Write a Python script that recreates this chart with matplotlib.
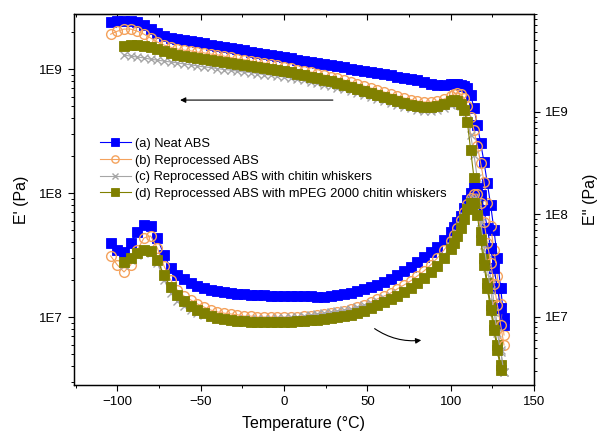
import numpy as np
import matplotlib
matplotlib.use('Agg')
import matplotlib.pyplot as plt
from matplotlib.ticker import FixedLocator, FixedFormatter, LogLocator, NullFormatter, MultipleLocator

plt.rcParams['font.family'] = ['Liberation Sans', 'DejaVu Sans']

nan = np.nan

# temperature grid (°C), shared by all samples
temps = [-104, -100, -96, -92, -88, -84, -80, -76, -72, -68,
         -64, -60, -56, -52, -48, -44, -40, -36, -32, -28,
         -24, -20, -16, -12, -8, -4, 0, 4, 8, 12,
         16, 20, 24, 28, 32, 36, 40, 44, 48, 52,
         56, 60, 64, 68, 72, 76, 80, 84, 88, 92,
         96, 100,
         102, 104, 106, 108, 110, 112, 114, 116, 118, 120,
         122, 124, 126, 128, 130, 132]

# storage modulus E' (Pa)
neat_storage = [2.39e9, 2.44e9, 2.44e9, 2.44e9, 2.39e9, 2.26e9, 2.10e9, 1.95e9, 1.85e9, 1.78e9,
                1.75e9, 1.71e9, 1.68e9, 1.65e9, 1.62e9, 1.56e9, 1.53e9, 1.50e9, 1.48e9, 1.45e9,
                1.42e9, 1.37e9, 1.35e9, 1.32e9, 1.30e9, 1.27e9, 1.25e9, 1.23e9, 1.18e9, 1.16e9,
                1.14e9, 1.12e9, 1.10e9, 1.08e9, 1.06e9, 1.04e9, 1.00e9, 9.81e8, 9.63e8, 9.46e8,
                9.28e8, 9.11e8, 8.94e8, 8.62e8, 8.46e8, 8.30e8, 8.15e8, 7.85e8, 7.57e8, 7.43e8,
                7.43e8, 7.57e8,
                7.57e8, 7.57e8, 7.43e8, 7.29e8, 7.03e8, 6.17e8, 4.85e8, 3.53e8, 2.53e8, 1.78e8,
                1.20e8, 8.00e7, 5.03e7, 2.99e7, 1.71e7, 9.82e6]
repro_storage = [1.91e9, 2.02e9, 2.10e9, 2.10e9, 2.02e9, 1.91e9, 1.78e9, 1.65e9, 1.56e9, 1.50e9,
                 1.45e9, 1.42e9, 1.40e9, 1.37e9, 1.35e9, 1.32e9, 1.30e9, 1.27e9, 1.24e9, 1.21e9,
                 1.19e9, 1.16e9, 1.14e9, 1.12e9, 1.09e9, 1.07e9, 1.04e9, 1.02e9, 9.91e8, 9.72e8,
                 9.46e8, 9.20e8, 8.94e8, 8.70e8, 8.46e8, 8.15e8, 7.85e8, 7.57e8, 7.29e8, 7.03e8,
                 6.77e8, 6.53e8, 6.29e8, 6.06e8, 5.84e8, 5.68e8, 5.52e8, 5.42e8, 5.42e8, 5.52e8,
                 5.73e8, 6.06e8,
                 6.29e8, 6.41e8, 6.29e8, 5.84e8, 5.03e8, 4.10e8, 3.22e8, 2.39e8, 1.75e8, 1.23e8,
                 8.31e7, 5.42e7, 3.47e7, 2.14e7, 1.27e7, 7.16e6]
chitin_storage = [nan, nan, 1.30e9, 1.27e9, 1.25e9, 1.23e9, 1.20e9, 1.18e9, 1.16e9, 1.14e9,
                  1.12e9, 1.10e9, 1.08e9, 1.06e9, 1.04e9, 1.03e9, 1.01e9, 9.91e8, 9.81e8, 9.63e8,
                  9.46e8, 9.37e8, 9.20e8, 9.03e8, 8.94e8, 8.78e8, 8.62e8, 8.46e8, 8.30e8, 8.15e8,
                  7.93e8, 7.71e8, 7.50e8, 7.29e8, 7.09e8, 6.90e8, 6.65e8, 6.41e8, 6.17e8, 5.95e8,
                  5.73e8, 5.52e8, 5.32e8, 5.12e8, 4.94e8, 4.81e8, 4.67e8, 4.63e8, 4.63e8, 4.71e8,
                  4.89e8, 5.17e8,
                  5.32e8, 5.27e8, 5.03e8, 4.58e8, 3.88e8, 2.94e8, 2.03e8, 1.32e8, 8.31e7, 5.22e7,
                  3.28e7, 2.06e7, 1.32e7, 8.46e6, 5.42e6, 3.60e6]
mpeg_storage = [nan, nan, 1.53e9, 1.56e9, 1.56e9, 1.53e9, 1.50e9, 1.45e9, 1.40e9, 1.35e9,
                1.31e9, 1.27e9, 1.25e9, 1.23e9, 1.20e9, 1.18e9, 1.16e9, 1.14e9, 1.12e9, 1.10e9,
                1.08e9, 1.06e9, 1.04e9, 1.02e9, 1.00e9, 9.81e8, 9.63e8, 9.46e8, 9.20e8, 8.94e8,
                8.70e8, 8.46e8, 8.23e8, 8.00e8, 7.71e8, 7.43e8, 7.16e8, 6.90e8, 6.65e8, 6.41e8,
                6.17e8, 5.95e8, 5.73e8, 5.52e8, 5.32e8, 5.12e8, 5.03e8, 4.94e8, 4.94e8, 5.03e8,
                5.22e8, 5.52e8,
                5.62e8, 5.52e8, 5.22e8, 4.67e8, 3.74e8, 2.22e8, 1.32e8, 8.00e7, 4.85e7, 2.99e7,
                1.88e7, 1.25e7, 8.62e6, 5.94e6, 4.10e6, nan]

# loss modulus E'' (Pa)
neat_loss = [5.27e7, 4.50e7, 4.31e7, 5.27e7, 6.75e7, 7.90e7, 7.72e7, 5.90e7, 4.03e7, 3.01e7,
             2.57e7, 2.35e7, 2.15e7, 2.01e7, 1.92e7, 1.83e7, 1.79e7, 1.75e7, 1.71e7, 1.68e7,
             1.68e7, 1.64e7, 1.64e7, 1.64e7, 1.60e7, 1.60e7, 1.60e7, 1.60e7, 1.60e7, 1.60e7,
             1.60e7, 1.57e7, 1.57e7, 1.60e7, 1.64e7, 1.68e7, 1.71e7, 1.79e7, 1.88e7, 1.96e7,
             2.05e7, 2.19e7, 2.35e7, 2.57e7, 2.81e7, 3.07e7, 3.44e7, 3.85e7, 4.31e7, 4.82e7,
             5.64e7, 6.75e7,
             7.55e7, 8.45e7, 9.67e7, 1.16e8, 1.39e8, 1.62e8, 1.81e8, 1.81e8, 1.55e8, 1.11e8,
             7.38e7, 4.71e7, 3.01e7, 1.92e7, 1.22e7, 8.35e6]
repro_loss = [3.94e7, 3.22e7, 2.75e7, 3.22e7, 4.50e7, 5.90e7, 6.17e7, 4.71e7, 3.15e7, 2.30e7,
              1.83e7, 1.60e7, 1.47e7, 1.34e7, 1.25e7, 1.17e7, 1.12e7, 1.09e7, 1.07e7, 1.05e7,
              1.02e7, 1.02e7, 1.00e7, 1.00e7, 1.00e7, 1.00e7, 1.00e7, 1.00e7, 1.00e7, 1.02e7,
              1.02e7, 1.05e7, 1.07e7, 1.09e7, 1.12e7, 1.14e7, 1.20e7, 1.25e7, 1.31e7, 1.40e7,
              1.50e7, 1.60e7, 1.71e7, 1.88e7, 2.05e7, 2.25e7, 2.51e7, 2.81e7, 3.22e7, 3.76e7,
              4.50e7, 5.51e7,
              6.31e7, 7.38e7, 8.84e7, 1.06e8, 1.27e8, 1.45e8, 1.58e8, 1.58e8, 1.29e8, 8.45e7,
              5.27e7, 3.36e7, 2.10e7, 1.31e7, 8.35e6, 5.33e6]
chitin_loss = [nan, nan, 3.22e7, 3.60e7, 4.03e7, 4.31e7, 4.21e7, 3.36e7, 2.30e7, 1.71e7,
               1.43e7, 1.28e7, 1.17e7, 1.09e7, 1.05e7, 1.00e7, 9.78e6, 9.56e6, 9.56e6, 9.56e6,
               9.56e6, 9.56e6, 9.56e6, 9.56e6, 9.56e6, 9.78e6, 9.78e6, 1.00e7, 1.00e7, 1.02e7,
               1.05e7, 1.07e7, 1.09e7, 1.12e7, 1.14e7, 1.17e7, 1.20e7, 1.25e7, 1.31e7, 1.37e7,
               1.43e7, 1.53e7, 1.60e7, 1.71e7, 1.83e7, 2.01e7, 2.19e7, 2.46e7, 2.81e7, 3.29e7,
               3.94e7, 4.93e7,
               5.64e7, 6.60e7, 7.90e7, 9.67e7, 1.18e8, 1.39e8, 1.45e8, 1.29e8, 8.45e7, 5.04e7,
               3.01e7, 1.83e7, 1.12e7, 6.98e6, 4.56e6, 2.91e6]
mpeg_loss = [nan, nan, 3.44e7, 3.76e7, 4.21e7, 4.50e7, 4.40e7, 3.60e7, 2.57e7, 1.96e7,
             1.64e7, 1.43e7, 1.28e7, 1.17e7, 1.09e7, 1.02e7, 9.78e6, 9.56e6, 9.35e6, 9.14e6,
             9.14e6, 8.94e6, 8.94e6, 8.94e6, 8.94e6, 8.94e6, 8.94e6, 8.94e6, 9.14e6, 9.14e6,
             9.35e6, 9.35e6, 9.56e6, 9.78e6, 1.00e7, 1.02e7, 1.05e7, 1.09e7, 1.14e7, 1.22e7,
             1.31e7, 1.40e7, 1.50e7, 1.60e7, 1.75e7, 1.92e7, 2.15e7, 2.40e7, 2.75e7, 3.15e7,
             3.76e7, 4.61e7,
             5.27e7, 6.17e7, 7.38e7, 9.04e7, 1.13e8, 1.29e8, 1.29e8, 9.89e7, 5.64e7, 3.22e7,
             1.92e7, 1.17e7, 7.46e6, 4.76e6, 3.04e6, nan]

labels = ['(a) Neat ABS',
          '(b) Reprocessed ABS',
          '(c) Reprocessed ABS with chitin whiskers',
          '(d) Reprocessed ABS with mPEG 2000 chitin whiskers']
storage = [neat_storage, repro_storage, chitin_storage, mpeg_storage]
loss = [neat_loss, repro_loss, chitin_loss, mpeg_loss]

styles = [
    dict(color='#0000ff', marker='s', markersize=6.8, mfc='#0000ff', mec='#0000ff', mew=0.6),
    dict(color='#f4a25c', marker='o', markersize=7.0, mfc='none', mec='#f4a25c', mew=1.0),
    dict(color='#a6a6a6', marker='x', markersize=6.3, mec='#a6a6a6', mew=1.0),
    dict(color='#808000', marker='s', markersize=7.0, mfc='#808000', mec='#808000', mew=0.6),
]

fig = plt.figure(figsize=(6.01, 4.40), dpi=100)
ax = fig.add_axes([0.1231, 0.125, 0.7654, 0.8432])
ax2 = ax.twinx()

for i in range(4):
    ax.plot(temps, storage[i], lw=0.8, label=labels[i], zorder=2 + i, **styles[i])
    ax2.plot(temps, loss[i], lw=0.8, zorder=2 + i, **styles[i])

ax.set_xlim(-126, 150)
ax.set_yscale('log')
ax2.set_yscale('log')
ax.set_ylim(2.83e6, 2.78e9)
ax2.set_ylim(2.17e6, 9.04e9)

for a in (ax, ax2):
    a.yaxis.set_major_locator(FixedLocator([1e7, 1e8, 1e9]))
    a.yaxis.set_major_formatter(FixedFormatter(['1E7', '1E8', '1E9']))
    a.yaxis.set_minor_locator(LogLocator(base=10, subs=np.arange(2, 10)))
    a.yaxis.set_minor_formatter(NullFormatter())
    a.tick_params(axis='y', which='major', direction='out', length=4.5, width=0.8, labelsize=9.5)
    a.tick_params(axis='y', which='minor', direction='out', length=2.3, width=0.7)
    for s in a.spines.values():
        s.set_linewidth(0.9)

ax.xaxis.set_major_locator(MultipleLocator(50))
ax.xaxis.set_minor_locator(MultipleLocator(25))
ax.tick_params(axis='x', which='major', direction='out', length=4.5, width=0.8, labelsize=9.5)
ax.tick_params(axis='x', which='minor', direction='out', length=2.5, width=0.7)

top = ax.secondary_xaxis('top')
top.xaxis.set_major_locator(MultipleLocator(50))
top.xaxis.set_minor_locator(MultipleLocator(25))
top.tick_params(axis='x', which='major', direction='in', length=4.5, width=0.8, labeltop=False)
top.tick_params(axis='x', which='minor', direction='in', length=2.5, width=0.7)

ax.set_xlabel('Temperature (°C)', fontsize=11.5, labelpad=6)
ax.set_ylabel("E' (Pa)", fontsize=11.5)
ax2.set_ylabel("E'' (Pa)", fontsize=11.5)
ax.yaxis.set_label_coords(-0.098, 0.5)
ax2.yaxis.set_label_coords(1.106, 0.5)

# direction of the heating scan for each family of curves
ax.annotate('', xy=(-64, 5.62e8), xytext=(31, 5.62e8),
            arrowprops=dict(arrowstyle='-|>', color='black', lw=0.8, mutation_scale=8))
ax2.annotate('', xy=(84, 5.97e6), xytext=(53, 7.98e6),
             arrowprops=dict(arrowstyle='-|>', color='black', lw=0.8, mutation_scale=8,
                             connectionstyle='arc3,rad=0.2'))

ax.legend(loc='upper left', bbox_to_anchor=(0.0565, 0.666), frameon=False, fontsize=9.3,
          numpoints=1, markerscale=0.75, borderpad=0, borderaxespad=0, handlelength=2.4,
          handletextpad=0.3, labelspacing=0.35)

fig.savefig('out.png', dpi=100)
